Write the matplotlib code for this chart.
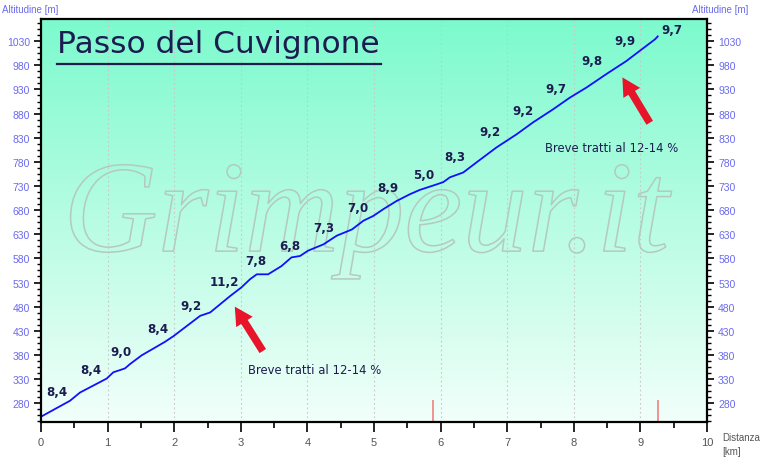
import numpy as np
import matplotlib
matplotlib.use("Agg")
import matplotlib.pyplot as plt
from matplotlib import patheffects as pe

# ---- data ----
dist_km = [0.0, 0.435, 0.585, 0.986, 1.086, 1.26, 1.336, 1.51, 1.86, 1.99, 2.19, 2.39, 2.54,
           2.69, 2.84, 3.01, 3.14, 3.24, 3.41, 3.61, 3.76, 3.89, 4.01, 4.24, 4.44, 4.67,
           4.84, 4.99, 5.14, 5.34, 5.54, 5.69, 5.89, 6.04, 6.14, 6.34, 6.54, 6.84, 7.14,
           7.39, 7.69, 7.94, 8.19, 8.49, 8.79, 8.99, 9.22, 9.26]
alt_m = [252, 285, 302, 331, 344, 352, 361, 379, 407, 419, 440, 461, 468,
         485, 502, 520, 537, 547, 547, 564, 582, 585, 596, 609, 627, 640,
         658, 668, 682, 699, 713, 722, 731, 738, 748, 758, 779, 810, 837,
         862, 889, 913, 934, 962, 989, 1010, 1034, 1040]

grade_labels = ["8,4", "8,4", "9,0", "8,4", "9,2", "11,2", "7,8", "6,8", "7,3", "7,0",
                "8,9", "5,0", "8,3", "9,2", "9,2", "9,7", "9,8", "9,9", "9,7"]
grade_x = [0.24, 0.75, 1.20, 1.75, 2.25, 2.75, 3.23, 3.74, 4.24, 4.76,
           5.21, 5.75, 6.22, 6.74, 7.23, 7.73, 8.27, 8.77, 9.47]
grade_y = [305, 350, 388, 434, 483, 533, 576, 607, 645, 686,
           727, 754, 791, 843, 886, 933, 989, 1032, 1055]

marker_km = [5.89, 9.26]
marker_top = [287, 287]

# arrows: (tail x, tail y, tip x, tip y) in km / m
arrows = [(3.33, 388, 2.91, 480), (9.14, 861, 8.73, 955)]
note_pos = [(3.11, 350), (7.57, 810)]

yticks = list(range(280, 1031, 50))
xticks = list(range(0, 11))

title = "Passo del Cuvignone"
note = "Breve tratti al 12-14 %"

# ---- figure ----
fig = plt.figure(figsize=(7.6, 4.6), dpi=100)
ax = fig.add_axes([41/760, 37/460, 666/760, 403/460])
ymin, ymax = 241, 1076
ax.set_xlim(0, 10)
ax.set_ylim(ymin, ymax)

# gradient background
top = np.array([124, 250, 205]) / 255
bot = np.array([242, 255, 250]) / 255
t = np.linspace(0, 1, 256)[:, None]
grad = (top * (1 - t) + bot * t)[:, None, :]
ax.imshow(grad, extent=[0, 10, ymin, ymax], aspect='auto', origin='upper', zorder=0)

# grid
for x in range(1, 10):
    ax.axvline(x, color='#c8c8c8', lw=0.8, ls=(0, (1.5, 2.5)), zorder=1)

# watermark
ax.text(0.488, 0.424, "Grimpeur.it", transform=ax.transAxes, ha='center', va='baseline',
        fontsize=94, family='Liberation Serif', style='italic', color=(1, 1, 1, 0),
        path_effects=[pe.withStroke(linewidth=1.1, foreground='#b4c9c2')], zorder=2)

# profile
ax.plot(dist_km, alt_m, color='#1010ff', lw=1.3, zorder=4)

# markers
ax.vlines(marker_km, ymin, marker_top, color='#f08080', lw=1.2, zorder=3)

# grade labels
for lab, gx, gy in zip(grade_labels, grade_x, grade_y):
    ax.text(gx, gy, lab, ha='center', va='center', fontsize=8.6, fontweight='bold',
            color='#1c1c50', family='DejaVu Sans', zorder=5)

# notes
for nx, ny in note_pos:
    ax.text(nx, ny, note, ha='left', va='center', fontsize=8.4, color='#1c1c50', zorder=5)

# arrows
for x0, y0, x1, y1 in arrows:
    ax.annotate('', xy=(x1, y1), xytext=(x0, y0),
                arrowprops=dict(arrowstyle='simple,head_length=1.3,head_width=1.4,tail_width=0.55',
                                color='#e8142a', lw=0, shrinkA=0, shrinkB=0), zorder=6)

# title
ax.text(0.024, 0.94, title, transform=ax.transAxes, ha='left', va='center',
        fontsize=22.5, color='#1c1c50', family='DejaVu Sans', zorder=6)
ax.plot([16/666, 340/666], [0.888, 0.888], transform=ax.transAxes, color='#1c1c50',
        lw=1.6, zorder=6)

# axes styling
for s in ax.spines.values():
    s.set_color('black')
    s.set_linewidth(1.6)
    s.set_zorder(7)

ax.set_xticks(xticks)
ax.set_xticks(np.arange(0, 10.01, 0.5), minor=True)
ax.set_yticks(yticks)
ax.set_yticks(np.arange(242.5, 1076, 12.5), minor=True)
ax.tick_params(axis='x', which='major', length=7, width=1.2, colors='black',
               labelcolor='#555555', labelsize=8, pad=4)
ax.tick_params(axis='x', which='minor', length=4, width=1.2, colors='black')
ax.tick_params(axis='y', which='major', length=5, width=1.2, colors='black',
               labelcolor='#6a6af0', labelsize=7.5, left=True, right=True,
               labelleft=True, labelright=True, pad=3)
ax.tick_params(axis='y', which='minor', length=3, width=1.0, colors='black',
               left=True, right=True)
for lab in ax.get_xticklabels() + ax.get_yticklabels():
    lab.set_family('Liberation Sans')

fig.text(2/760, 1 - 10/460, "Altitudine [m]", ha='left', va='center', fontsize=7,
         color='#6a6af0', family='Liberation Sans')
fig.text(692/760, 1 - 10/460, "Altitudine [m]", ha='left', va='center', fontsize=7,
         color='#6a6af0', family='Liberation Sans')
fig.text(722/760, 1 - 438/460, "Distanza", ha='left', va='center', fontsize=7,
         color='#555555', family='Liberation Sans')
fig.text(722/760, 1 - 452/460, "[km]", ha='left', va='center', fontsize=7,
         color='#555555', family='Liberation Sans')

fig.savefig("out.png", dpi=100, facecolor='white')
